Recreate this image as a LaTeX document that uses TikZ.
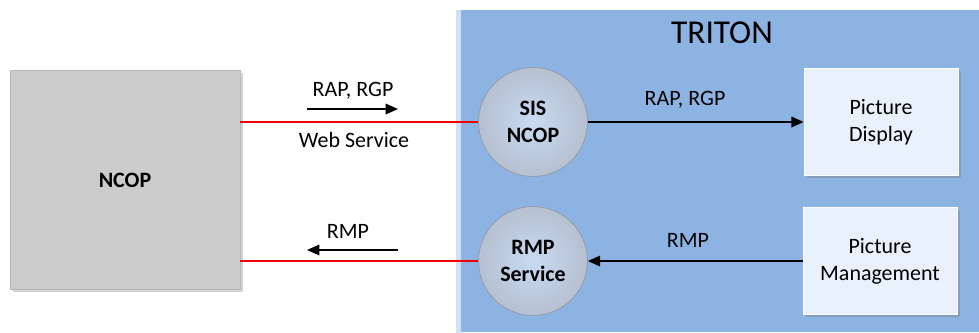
\documentclass[tikz,border=0pt]{standalone}
\usepackage{fontspec}
\setmainfont{Carlito}
\usetikzlibrary{
  positioning,
  calc,
  shadows,
  arrows.meta}
\definecolor{tritoncolor}{RGB}{141,179,226}
\definecolor{edgecolor}{RGB}{205,225,248}
\definecolor{ncopcolor}{RGB}{204,204,204}
\definecolor{boxcolor}{RGB}{232,241,252}
\definecolor{ballinner}{RGB}{200,218,242}
\definecolor{ballouter}{RGB}{182,192,208}
\definecolor{linkcolor}{RGB}{240,0,0}
\newcommand{\labelfont}{\fontsize{12.5}{15.3}\selectfont}
\tikzset{
  %% panel : the TRITON background
  panel/.style={
    rectangle,
    fill=tritoncolor,
    inner sep=0pt,
    anchor=north west
  },
  %% system : the external system
  system/.style={
    rectangle,
    fill=ncopcolor,
    draw=gray!55,
    minimum width=4.6cm,
    minimum height=4.38cm,
    font=\labelfont\bfseries,
    drop shadow={opacity=0.35, shadow xshift=1.5pt, shadow yshift=-1.5pt}
  },
  %% service : a round service inside TRITON
  service/.style={
    circle,
    inner color=ballinner,
    outer color=ballouter,
    draw=ballouter!80!black,
    minimum size=2.18cm,
    inner sep=0pt,
    align=center,
    font=\labelfont\bfseries
  },
  %% module : a TRITON module
  module/.style={
    rectangle,
    fill=boxcolor,
    draw=white,
    minimum width=3.08cm,
    minimum height=2.14cm,
    align=center,
    drop shadow={opacity=0.4, shadow xshift=1.5pt, shadow yshift=-1.5pt}
  },
  %% link : red web service line
  link/.style={linkcolor, line width=1.5pt},
  %% flow : black arrow
  flow/.style={-{Triangle[length=7pt, width=6pt]}, line width=1.1pt},
  %% label : text over a line
  label/.style={inner sep=0pt}
}

\begin{document}
\begin{tikzpicture}
  [x=0.02cm,
  y=-0.02cm,
  align=center,
  font=\labelfont]

  \useasboundingbox (0,0) rectangle (979,332);

  %% TRITON panel
  \node (triton) [panel, minimum width=10.46cm, minimum height=6.44cm] at (456,10) {};
  \fill [edgecolor] (triton.north west) rectangle ($(triton.south west) + (5,0)$);
  \node (title) [font=\fontsize{19}{22}\selectfont] at (722,33) {TRITON};

  %% Nodes
  \node (ncop) [system] at (125,180) {NCOP};

  \node (sis) [service] at (533,122) {SIS\\NCOP};
  \node (rmp) [service] at (533,261) {RMP\\Service};

  \node (display) [module] at (881,122) {Picture\\Display};
  \node (manage) [module] at (880,261) {Picture\\Management};

  %% Connections
  \draw [link] (ncop.east |- sis) -- (sis);
  \draw [link] (ncop.east |- rmp) -- (rmp);
  \draw [flow] (sis) -- (display);
  \draw [flow] (manage) -- (rmp);

  %% Direction arrows
  \coordinate (reqa) at (307,109);
  \coordinate (reqb) at (398,109);
  \draw [flow, line width=0.9pt] (reqa) -- (reqb);
  \coordinate (repa) at (398,250);
  \coordinate (repb) at (307,250);
  \draw [flow, line width=0.9pt] (repa) -- (repb);

  %% Labels
  \node (reqlabel) [label] at (353,91) {RAP, RGP};
  \node (wslabel) [label] at (354,140) {Web Service};
  \node (replabel) [label] at (348,231) {RMP};
  \node (displabel) [label] at (685,100) {RAP, RGP};
  \node (manlabel) [label] at (688,240) {RMP};

\end{tikzpicture}
\end{document}
